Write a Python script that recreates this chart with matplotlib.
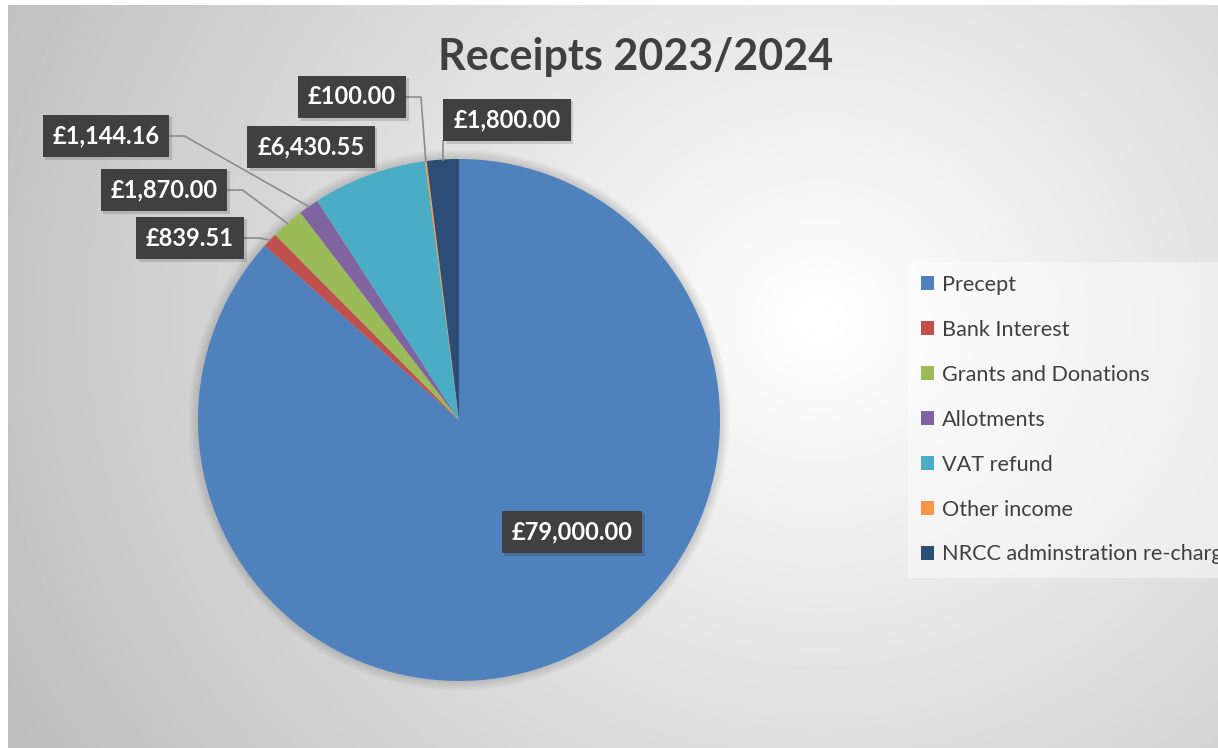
import numpy as np
import matplotlib.pyplot as plt
import matplotlib.patheffects as pe
from matplotlib.patches import Circle

plt.rcParams['font.family'] = ['Lato', 'DejaVu Sans']

categories = ['Precept', 'Bank Interest', 'Grants and Donations', 'Allotments',
              'VAT refund', 'Other income', 'NRCC adminstration re-charge']
values = [79000.00, 839.51, 1870.00, 1144.16, 6430.55, 100.00, 1800.00]
colors = ['#4F81BD', '#C0504D', '#9BBB59', '#8064A2', '#4BACC6', '#F79646', '#2C4D75']

# label box centres in pixels (x from left, y from top), and leader style
label_pos = [(572, 532), (190, 238), (164, 190), (106, 136), (311, 147), (352, 97), (507, 120)]
leader = [None, 'side', 'side', 'side', None, 'side', 'up']

W, H = 1218, 748
fig = plt.figure(figsize=(W / 100, H / 100), dpi=100)
fig.patch.set_facecolor('white')

# grey radial background of the chart area
bg = fig.add_axes([8 / W, 0, 1 - 8 / W, 743 / H])
bg.axis('off')
yy, xx = np.mgrid[0:743, 0:1210]
d = np.hypot(xx - 812, (yy - 315) * 1.1)
shade = np.clip(1 - 0.25 * d / 900, 0, 1)
bg.imshow(shade, cmap='gray', vmin=0, vmax=1, aspect='auto', interpolation='bilinear')

# pie
cx, cy, r = 459, 420, 261
ax = fig.add_axes([(cx - r) / W, (H - cy - r) / H, 2 * r / W, 2 * r / H])
for k in range(6):
    ax.add_patch(Circle((0, 0), 1 + 0.006 * (k + 1), color='black', alpha=0.025,
                        lw=0, zorder=0, clip_on=False))
wedges, _ = ax.pie(values, colors=colors, startangle=90, counterclock=False,
                   wedgeprops=dict(linewidth=0, zorder=1))
ax.set_xlim(-1, 1)
ax.set_ylim(-1, 1)


def px2d(px, py):
    return (px - cx) / r, (cy - py) / r


texts = []
for v, (px, py) in zip(values, label_pos):
    x, y = px2d(px, py)
    t = ax.text(x, y, f'£{v:,.2f}', ha='center', va='center', fontsize=17,
                fontweight='bold', color='white', clip_on=False, zorder=5,
                bbox=dict(boxstyle='square,pad=0.42', fc='#404040', ec='none'))
    t.get_bbox_patch().set_path_effects([pe.SimplePatchShadow(offset=(2, -2), alpha=0.15),
                                         pe.Normal()])
    texts.append(t)

fig.canvas.draw()
renderer = fig.canvas.get_renderer()
inv = ax.transData.inverted()
for w, t, kind, (px, py) in zip(wedges, texts, leader, label_pos):
    if kind is None:
        continue
    ang = np.deg2rad((w.theta1 + w.theta2) / 2)
    ax_, ay_ = np.cos(ang), np.sin(ang)
    bb = t.get_bbox_patch().get_window_extent(renderer)
    (x0, y0), (x1, y1) = inv.transform([[bb.x0, bb.y0], [bb.x1, bb.y1]])
    _, ty = px2d(px, py)
    if kind == 'side':
        xs = [x1, x1 + 15 / r, ax_]
        ys = [ty, ty, ay_]
    else:
        xs = [ax_, ax_]
        ys = [ay_, y0]
    ax.plot(xs, ys, color='#8c8c8c', lw=1.2, clip_on=False, zorder=4)

fig.text(636 / W, 1 - 57 / H, 'Receipts 2023/2024', ha='center', va='center',
         fontsize=31, fontweight='bold', color='#404040')

# legend runs off the right edge, as in the original
leg = fig.legend(wedges, categories, loc='upper left', bbox_to_anchor=(908 / W, 1 - 262 / H),
                 fontsize=15.6, labelcolor='#404040', frameon=True, fancybox=False,
                 handlelength=0.6, handleheight=0.6, handletextpad=0.35,
                 labelspacing=1.15, borderpad=0.6, borderaxespad=0)
leg.get_frame().set_facecolor('white')
leg.get_frame().set_alpha(0.45)
leg.get_frame().set_edgecolor('none')

fig.savefig('out.png', dpi=100)
